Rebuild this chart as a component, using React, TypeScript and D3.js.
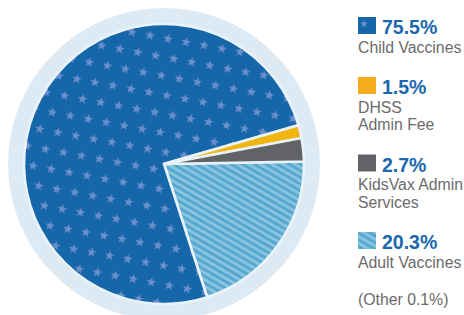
import React, { useEffect, useRef } from "react";
import * as d3 from "d3";

// slice data (pie order, clockwise from 3 o'clock)
const sliceNames = ["Adult Vaccines", "Child Vaccines", "DHSS Admin Fee", "KidsVax Admin Services"];
const sliceValues = [20.3, 75.5, 1.5, 2.7];
const sliceFills = ["url(#stripes)", "url(#stars)", "#f0b50f", "#626366"];

// legend data (top to bottom)
const legendPercents = ["75.5%", "1.5%", "2.7%", "20.3%"];
const legendLabels = [["Child Vaccines"], ["DHSS", "Admin Fee"], ["KidsVax Admin", "Services"], ["Adult Vaccines"]];
const legendFills = ["url(#starSwatch)", "#f5ad1c", "#626366", "url(#stripesSwatch)"];
const otherNote = "(Other 0.1%)";

const W = 464;
const H = 315;

function starPath(cx: number, cy: number, outer: number, inner: number) {
  const pts: [number, number][] = [];
  for (let i = 0; i < 10; i++) {
    const r = i % 2 === 0 ? outer : inner;
    const a = -Math.PI / 2 + (i * Math.PI) / 5;
    pts.push([cx + r * Math.cos(a), cy + r * Math.sin(a)]);
  }
  return "M" + pts.map(p => p[0].toFixed(2) + "," + p[1].toFixed(2)).join("L") + "Z";
}

export default function App() {
  const ref = useRef<SVGSVGElement>(null);

  useEffect(() => {
    const svg = d3.select(ref.current);
    svg.selectAll("*").remove();

    const defs = svg.append("defs");

    // star pattern for child vaccines
    const stars = defs.append("pattern")
      .attr("id", "stars")
      .attr("patternUnits", "userSpaceOnUse")
      .attr("width", 18.3)
      .attr("height", 37.3)
      .attr("patternTransform", "translate(4,2) rotate(10.4)");
    stars.append("rect").attr("width", 18.3).attr("height", 37.3).attr("fill", "#1666aa");
    [[4.5, 5.5], [13.65, 24.15], [-4.65, 24.15], [22.95, 24.15], [22.8, 5.5]].forEach(([x, y]) => {
      stars.append("path").attr("d", starPath(x, y, 5, 2.1)).attr("fill", "#6c8fcd");
    });

    const starSwatch = defs.append("pattern")
      .attr("id", "starSwatch")
      .attr("patternUnits", "objectBoundingBox")
      .attr("width", 1).attr("height", 1);
    starSwatch.append("rect").attr("width", 18).attr("height", 17).attr("fill", "#1666aa");
    starSwatch.append("path").attr("d", starPath(6, 7, 3.8, 1.7)).attr("fill", "#6c8fcd");

    // diagonal stripes for adult vaccines
    const makeStripes = (id: string, size: number) => {
      const p = defs.append("pattern")
        .attr("id", id)
        .attr("patternUnits", "userSpaceOnUse")
        .attr("width", 10)
        .attr("height", size)
        .attr("patternTransform", "rotate(30)");
      p.append("rect").attr("width", 10).attr("height", size).attr("fill", "#8ac3de");
      p.append("rect").attr("width", 10).attr("height", size / 2).attr("fill", "#55a8d0");
    };
    makeStripes("stripes", 5.8);
    makeStripes("stripesSwatch", 5.8);

    const cx = 164;
    const cy = 164;
    const radius = 140;

    const chart = svg.append("g").attr("transform", `translate(${cx}, ${cy})`);

    // outer ring
    chart.append("circle").attr("r", 156).attr("fill", "#deeaf3");

    const start = (89 * Math.PI) / 180;
    const pie = d3.pie<number>().sort(null).startAngle(start).endAngle(start + 2 * Math.PI);
    const arc = d3.arc<d3.PieArcDatum<number>>().innerRadius(0).outerRadius(radius);

    chart.selectAll("path.slice")
      .data(pie(sliceValues))
      .enter()
      .append("path")
      .attr("class", "slice")
      .attr("d", arc)
      .attr("fill", (d, i) => sliceFills[i])
      .attr("stroke", "#eaf2f9")
      .attr("stroke-width", 2.6)
      .attr("stroke-linejoin", "miter")
      .append("title")
      .text((d, i) => sliceNames[i]);

    // legend
    const legend = svg.append("g").attr("font-family", "'Liberation Sans', Arial, sans-serif");
    const swatchX = 358;
    let top = 17;
    legendPercents.forEach((pct, i) => {
      const g = legend.append("g").attr("transform", `translate(0, ${top})`);
      g.append("rect")
        .attr("x", swatchX)
        .attr("y", 0)
        .attr("width", 18)
        .attr("height", 17)
        .attr("fill", legendFills[i]);
      g.append("text")
        .attr("x", 382)
        .attr("y", 17)
        .attr("font-size", 19.5)
        .attr("font-weight", "bold")
        .attr("fill", "#1a68ad")
        .text(pct);
      legendLabels[i].forEach((line, j) => {
        g.append("text")
          .attr("x", swatchX)
          .attr("y", 35.5 + j * 17.5)
          .attr("font-size", 15.8)
          .attr("fill", "#6b6b6b")
          .text(line);
      });
      top += 42.5 + 17.5 * legendLabels[i].length;
    });

    legend.append("text")
      .attr("x", swatchX)
      .attr("y", 305)
      .attr("font-size", 15.8)
      .attr("fill", "#6b6b6b")
      .text(otherNote);
  }, []);

  return (
    <svg
      ref={ref}
      width={W}
      height={H}
      style={{ position: "absolute", left: 0, top: 0, background: "#fff" }}
    />
  );
}
